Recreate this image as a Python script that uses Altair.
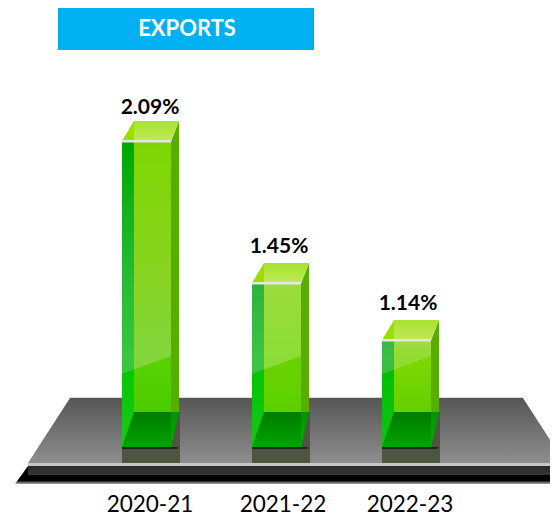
import altair as alt
import pandas as pd

title = ["EXPORTS"]
categories = ["2020-21", "2021-22", "2022-23"]
values = [2.09, 1.45, 1.14]
labels = ["2.09%", "1.45%", "1.14%"]

# styling, per bar: glossy upper part of the faces
center_gloss = [
    [(0, "#7ED600"), (0.6, "#88D420"), (1, "#82D63C")],
    [(0, "#9BDC3C"), (1, "#8CDC38")],
    [(0, "#A0DC48"), (1, "#90DC30")],
]
strip_gloss = [
    [(0, "#00A800"), (0.6, "#22BB33"), (1, "#38C63C")],
    [(0, "#2BB43B"), (1, "#3CC444")],
    [(0, "#38B848"), (1, "#3CBE44")],
]
# styling, per bar: plain lower part of the faces
center_low = [("#5AD200", "#4ACC00"), ("#6CD400", "#5CD000"), ("#80D800", "#64D000")]
strip_low = [("#00C800", "#1AC81A"), ("#00C400", "#14C814"), ("#00BE00", "#10C410")]
label_dx = [3.5, 2.5, 1.5]
label_dy = [-33, -36, -36]
cat_dx = [3.5, 6.5, 3.5]
FONT = "Lato"

W, H = 542, 507
cx = alt.Scale(type="point", padding=0, domain=categories, range=[138.5, 398.5])
cy = alt.Scale(domain=[0, 1.14, 1.45, 2.09], range=[439, 332, 275, 133], zero=False, nice=False)
X = alt.X("cat:N", scale=cx, axis=None)
Y = alt.Y("val:Q", scale=cy, axis=None, stack=None)
Y0 = alt.Y("base:Q", scale=cy, axis=None, stack=None)
BACK = alt.value(404)
GLOSS_END = alt.value(348)


def vgrad(stops):
    return alt.LinearGradient(gradient="linear", x1=0, x2=0, y1=0, y2=1,
                              stops=[alt.GradientStop(offset=o, color=c) for o, c in stops])


def shape(path, fill, pos, data):
    return alt.Chart(data).mark_point(shape=path, size=4, filled=True, fill=fill, opacity=1,
                                      strokeWidth=0).encode(**pos)


blank = alt.Data(values=[{"a": 1}])
origin = dict(x=alt.value(0), y=alt.value(0))
layers = []

# header
layers.append(alt.Chart(blank).mark_rect(color="#00B0F0").encode(
    x=alt.value(50), x2=alt.value(306), y=alt.value(-2), y2=alt.value(42)))
layers.append(alt.Chart(pd.DataFrame({"t": title})).mark_text(
    font=FONT, fontWeight="bold", fontSize=22, color="white", align="center", baseline="middle").encode(
    x=alt.value(179), y=alt.value(21), text="t:N"))

# platform
layers.append(shape("M62,389 L515,389 L516,390 L62,390 Z", "#D8D8D8", origin, blank))
layers.append(shape("M62,390 L515,390 L557,455 L20,455 Z", vgrad([(0, "#565656"), (1, "#8E8E8E")]), origin, blank))
layers.append(shape("M20,455 L560,455 L560,458 L20,458 Z", "#C6C6C6", origin, blank))
layers.append(shape("M20,458 L7,476 L560,476 L560,458 Z", vgrad([(0, "#000000"), (0.8, "#000000"), (1, "#B0B0B0")]), origin, blank))
layers.append(shape("M20,458 L560,458 L560,467 L20,467 Z", vgrad([(0, "#2A2A2A"), (1, "#363636")]), origin, blank))

df = pd.DataFrame({"cat": categories, "val": values, "base": [0] * 3, "label": labels})

for i, c in enumerate(categories):
    d = df[df.cat == c]
    # shadow on the platform
    layers.append(alt.Chart(d).mark_bar(size=58, xOffset=4.5, color="#4F5540").encode(
        x=X, y=BACK, y2=alt.value(455)))
    layers.append(shape("M-24.5,0 L32,0 L31,2 L24.5,2 L-24.5,2 Z", "#242424", dict(x=X, y=Y0), d))
    # right face
    layers.append(alt.Chart(d).mark_bar(size=8, xOffset=28.5, color="#57AE00").encode(x=X, y=Y, y2=BACK))
    layers.append(shape("M24.5,0.5 L32.5,-20 L32.5,0.5 Z", "#57AE00", dict(x=X, y=Y), d))
    # front: lower part
    layers.append(alt.Chart(d).mark_bar(size=37, xOffset=6, fill=vgrad([(0, center_low[i][0]), (1, center_low[i][1])])).encode(
        x=X, y=GLOSS_END, y2=BACK))
    layers.append(alt.Chart(d).mark_bar(size=12, xOffset=-18.5, fill=vgrad([(0, strip_low[i][0]), (1, strip_low[i][1])])).encode(
        x=X, y=GLOSS_END, y2=alt.value(439)))
    # front: glossy upper part
    layers.append(alt.Chart(d).mark_bar(size=37, xOffset=6, fill=vgrad(center_gloss[i])).encode(x=X, y=Y, y2=GLOSS_END))
    layers.append(alt.Chart(d).mark_bar(size=12, xOffset=-18.5, fill=vgrad(strip_gloss[i])).encode(x=X, y=Y, y2=GLOSS_END))
    # diagonal end of the gloss
    layers.append(shape("M-12.5,-77.4 L24.5,-91 L-12.5,-91 Z", center_gloss[i][-1][1], dict(x=X, y=Y0), d))
    layers.append(shape("M-24.5,-73 L-12.5,-77.4 L-12.5,-91 L-24.5,-91 Z", strip_gloss[i][-1][1], dict(x=X, y=Y0), d))
    # floor
    layers.append(shape("M-24.5,0 L-12.5,-35 L32.5,-35 L24.5,0 Z", vgrad([(0, "#007C00"), (1, "#00A400")]), dict(x=X, y=Y0), d))
    layers.append(shape("M24.5,0 L32.5,-35 L24.5,-35 Z", vgrad([(0, "#009400"), (1, "#00B000")]), dict(x=X, y=Y0), d))
    # cap
    layers.append(shape("M-12.5,-20 L32.5,-20 L24.5,0 L-12.5,0 Z", vgrad([(0, "#A8E22C"), (1, "#C0E95A")]), dict(x=X, y=Y), d))
    layers.append(shape("M-24.5,0 L-12.5,-20 L-12.5,0 Z", "#9ADF00", dict(x=X, y=Y), d))
    layers.append(shape("M-24.5,-1 L24.5,-1 L24.5,1.5 L-24.5,1.5 Z", "#E6E6E6", dict(x=X, y=Y), d))
    # labels
    layers.append(alt.Chart(d).mark_text(font=FONT, fontWeight="bold", fontSize=21, color="black", align="center",
                                         baseline="middle", dx=label_dx[i], dy=label_dy[i]).encode(x=X, y=Y, text="label:N"))
    layers.append(alt.Chart(d).mark_text(font=FONT, fontSize=22.5, color="black", align="center",
                                         baseline="middle", dx=cat_dx[i]).encode(x=X, y=alt.value(496.5), text="cat:N"))

chart = alt.layer(*layers).properties(
    width=W, height=H, padding=0, autosize=alt.AutoSizeParams(type="none")
).configure_view(stroke=None)

chart.save("out.html", embed_options={"renderer": "svg", "actions": False})
